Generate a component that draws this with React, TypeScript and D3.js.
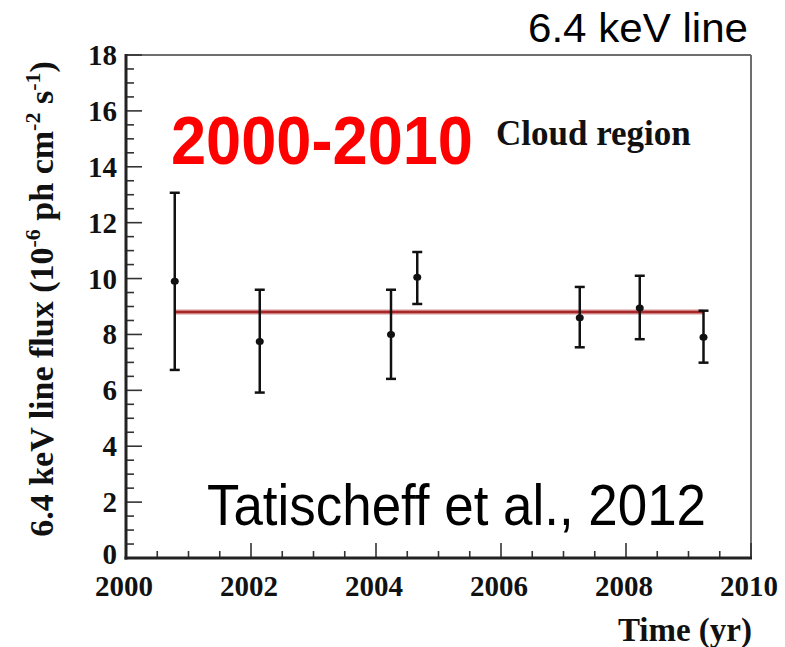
import React from "react";
import * as d3 from "d3";

const years = [2000.78, 2002.14, 2004.24, 2004.66, 2007.26, 2008.22, 2009.24];
const flux = [9.9, 7.75, 8.0, 10.05, 8.6, 8.95, 7.9];
const fluxHigh = [13.07, 9.6, 9.6, 10.95, 9.7, 10.1, 8.85];
const fluxLow = [6.73, 5.92, 6.41, 9.09, 7.54, 7.83, 6.99];
const fitFlux = 8.8;
const fitRange = [2000.78, 2009.24];
const xTicks = [2000, 2002, 2004, 2006, 2008, 2010];
const yTicks = [0, 2, 4, 6, 8, 10, 12, 14, 16, 18];

const W = 785;
const H = 647;
const L = 126, R = 751, T = 55, B = 558;

export default function App() {
  const x = d3.scaleLinear().domain([2000, 2010]).range([L, R]);
  const y = d3.scaleLinear().domain([0, 18]).range([B, T]);
  const xMinor = d3.range(2000, 2010.01, 0.5);
  const yMinor = d3.range(0, 18.01, 0.5);
  const serif = "'Liberation Serif', 'DejaVu Serif', serif";
  const sans = "'Liberation Sans', Arial, sans-serif";
  const fitLine = d3.line<number>().x((d) => x(d)).y(() => y(fitFlux));

  return (
    <div style={{ position: "fixed", left: 0, top: 0, width: W, height: H, background: "#fff" }}>
      <svg width={W} height={H} style={{ display: "block" }}>
        <rect width={W} height={H} fill="#fff" />
        {/* top and right frame */}
        <line x1={L} x2={R} y1={T} y2={T} stroke="#6e6e6e" strokeWidth={2} />
        <line x1={R} x2={R} y1={T} y2={B} stroke="#6e6e6e" strokeWidth={2} />
        {/* minor/major ticks */}
        {yMinor.map((v) => {
          const major = Math.abs(v % 2) < 1e-6;
          return (
            <line key={"ym" + v} x1={L} x2={L + (major ? 16 : 8)} y1={y(v)} y2={y(v)} stroke="#333" strokeWidth={1.6} />
          );
        })}
        {xMinor.map((v) => {
          const major = Math.abs((v - 2000) % 2) < 1e-6;
          return (
            <line key={"xm" + v} x1={x(v)} x2={x(v)} y1={B} y2={B - (major ? 15 : 7)} stroke="#333" strokeWidth={1.6} />
          );
        })}
        {/* axes */}
        <line x1={L} x2={L} y1={T - 1} y2={B + 1.5} stroke="#222" strokeWidth={3} />
        <line x1={L - 1.5} x2={R + 1} y1={B} y2={B} stroke="#222" strokeWidth={3} />
        {/* tick labels */}
        {yTicks.map((v) => (
          <text key={"yl" + v} x={L - 9} y={y(v) + (v === 0 ? 6 : 10)} textAnchor="end" fontFamily={serif} fontWeight="bold" fontSize={29} fill="#111">
            {v}
          </text>
        ))}
        {xTicks.map((v) => (
          <text key={"xl" + v} x={x(v) - 2} y={596} textAnchor="middle" fontFamily={serif} fontWeight="bold" fontSize={29} fill="#111">
            {v}
          </text>
        ))}
        {/* axis titles */}
        <text x={752} y={641} textAnchor="end" fontFamily={serif} fontWeight="bold" fontSize={33} fill="#111">
          Time (yr)
        </text>
        <text transform="translate(53,299) rotate(-90)" textAnchor="middle" fontFamily={serif} fontWeight="bold" fontSize={34} fill="#111">
          6.4 keV line flux (10
          <tspan dy={-13} fontSize={22}>-6</tspan>
          <tspan dy={13}> ph cm</tspan>
          <tspan dy={-13} fontSize={22}>-2</tspan>
          <tspan dy={13}> s</tspan>
          <tspan dy={-13} fontSize={22}>-1</tspan>
          <tspan dy={13}>)</tspan>
        </text>
        {/* fit line */}
        <path d={fitLine(fitRange) || ""} stroke="#d89a9a" strokeWidth={5} fill="none" />
        <path d={fitLine(fitRange) || ""} stroke="#a8282a" strokeWidth={2.5} fill="none" />
        {/* error bars */}
        {years.map((yr, i) => (
          <g key={"e" + i} stroke="#111" strokeWidth={2.5}>
            <line x1={x(yr)} x2={x(yr)} y1={y(fluxLow[i])} y2={y(fluxHigh[i])} />
            <line x1={x(yr) - 5} x2={x(yr) + 5} y1={y(fluxLow[i])} y2={y(fluxLow[i])} />
            <line x1={x(yr) - 5} x2={x(yr) + 5} y1={y(fluxHigh[i])} y2={y(fluxHigh[i])} />
            <ellipse cx={x(yr)} cy={y(flux[i])} rx={4} ry={3.5} fill="#111" stroke="none" />
          </g>
        ))}
        {/* annotations */}
        <text x={748} y={42} textAnchor="end" fontFamily={sans} fontSize={40} fill="#000" textLength={220} lengthAdjust="spacingAndGlyphs">
          6.4 keV line
        </text>
        <text x={171} y={164} fontFamily={sans} fontWeight="bold" fontSize={68} fill="#ff0000" textLength={302} lengthAdjust="spacingAndGlyphs">
          2000-2010
        </text>
        <text x={496} y={145} fontFamily={serif} fontWeight="bold" fontSize={35} fill="#111">
          Cloud region
        </text>
        <text x={207} y={525} fontFamily={sans} fontSize={58} fill="#000" textLength={499} lengthAdjust="spacingAndGlyphs">
          Tatischeff et al., 2012
        </text>
      </svg>
    </div>
  );
}
